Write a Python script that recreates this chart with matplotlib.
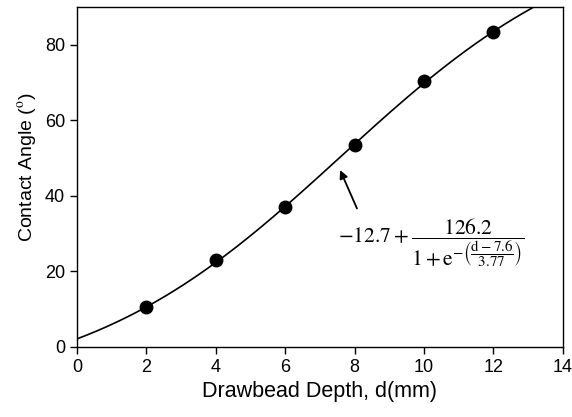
import numpy as np
import matplotlib
matplotlib.use("Agg")
import matplotlib.pyplot as plt

# measured points
depth = [2, 4, 6, 8, 10, 12]
angle = [10.5, 23.0, 37.0, 53.5, 70.5, 83.5]

# fitted sigmoid parameters (as printed on the chart)
fit_offset = -12.7
fit_amp = 126.2
fit_center = 7.6
fit_scale = 3.77

plt.rcParams["font.family"] = ["Liberation Sans", "DejaVu Sans"]
plt.rcParams["mathtext.fontset"] = "stix"

fig = plt.figure(figsize=(5.72, 4.17), dpi=100)
ax = fig.add_axes([0.1346, 0.168, 0.8494, 0.815])

d = np.linspace(0, 14, 300)
fit = fit_offset + fit_amp / (1 + np.exp(-(d - fit_center) / fit_scale))
ax.plot(d, fit, color="black", lw=1.2)
ax.plot(depth, angle, "o", color="black", ms=9)

ax.set_xlim(0, 14)
ax.set_ylim(0, 90)
ax.set_xticks(range(0, 15, 2))
ax.set_yticks(range(0, 81, 20))
ax.tick_params(direction="out", length=5, labelsize=13, width=1)
for s in ax.spines.values():
    s.set_linewidth(1)

ax.set_xlabel("Drawbead Depth, d(mm)", fontsize=15.5)
ax.set_ylabel("Contact Angle ($^{\\mathrm{o}}$)", fontsize=14)
ax.yaxis.set_label_coords(-0.078, 0.53)

eq = (r"$-12.7+\dfrac{126.2}{1+\mathrm{e}^{-\left(\dfrac{\mathrm{d}-7.6}{3.77}\right)}}$")
ax.annotate("", xy=(7.55, 47.5), xytext=(8.1, 36),
            arrowprops=dict(arrowstyle="-|>", color="black", lw=1.3,
                            mutation_scale=12))
ax.text(10.2, 27.6, eq, fontsize=15.5, ha="center", va="center")

fig.savefig("out.png", dpi=100)
